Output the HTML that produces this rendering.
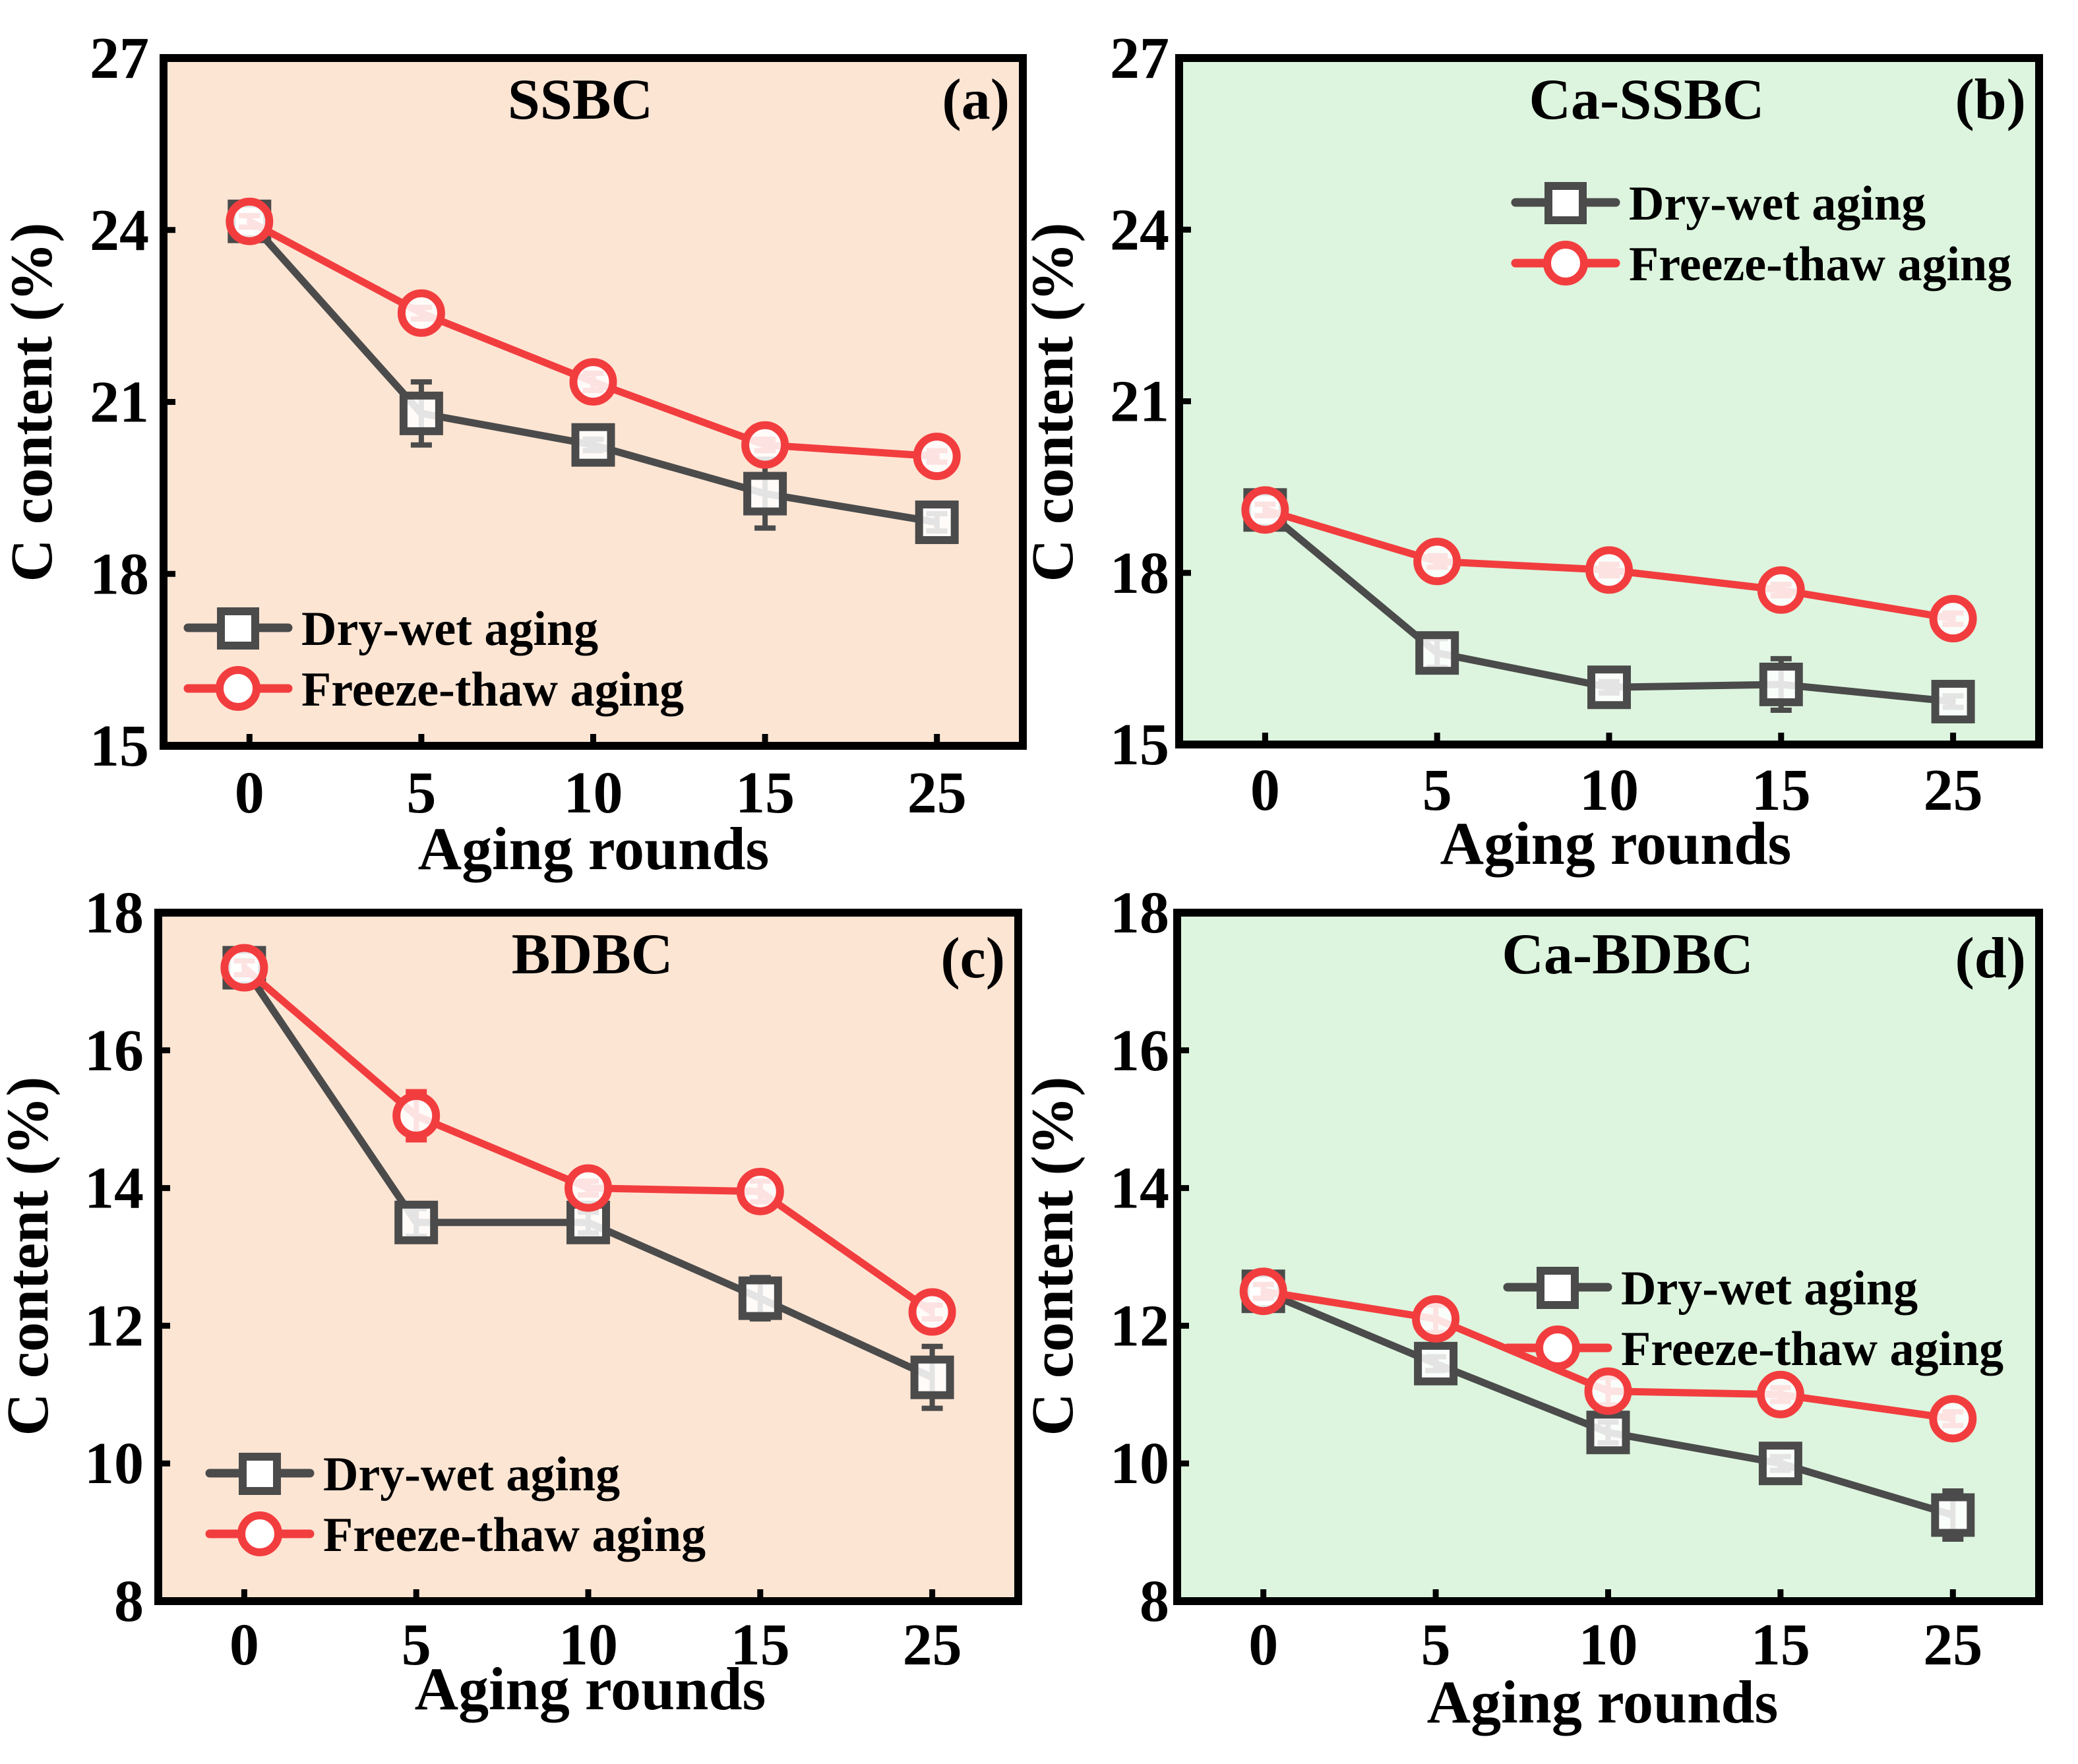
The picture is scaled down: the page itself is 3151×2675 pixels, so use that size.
<!DOCTYPE html>
<html><head><meta charset="utf-8">
<style>
html,body{margin:0;padding:0;background:#fff;}
svg{display:block;}
text{font-family:"Liberation Serif","Times New Roman",Times,serif;font-weight:bold;fill:#000;}
</style></head>
<body>
<svg id="fig" width="3151" height="2675" viewBox="0 0 3151 2675" xmlns="http://www.w3.org/2000/svg"></svg>
<script>
const categories = ["0","5","10","15","25"];
const dryA = [24.15, 20.8, 20.25, 19.4, 18.9];
const dryAErr = [0.1, 0.55, 0.1, 0.6, 0.15];
const frzA = [24.15, 22.55, 21.35, 20.25, 20.05];
const frzAErr = [0.1, 0.1, 0.15, 0.1, 0.1];
const dryB = [19.1, 16.6, 16.0, 16.05, 15.75];
const dryBErr = [0.1, 0.25, 0.1, 0.45, 0.1];
const frzB = [19.1, 18.2, 18.05, 17.7, 17.2];
const frzBErr = [0.1, 0.1, 0.1, 0.1, 0.1];
const dryC = [17.2, 13.5, 13.5, 12.4, 11.25];
const dryCErr = [0.15, 0.2, 0.15, 0.3, 0.45];
const frzC = [17.2, 15.05, 14.0, 13.95, 12.2];
const frzCErr = [0.1, 0.35, 0.1, 0.15, 0.1];
const dryD = [12.5, 11.45, 10.45, 10.0, 9.25];
const dryDErr = [0.1, 0.1, 0.15, 0.1, 0.35];
const frzD = [12.5, 12.1, 11.05, 11.0, 10.65];
const frzDErr = [0.1, 0.2, 0.2, 0.1, 0.1];
const ticksTop = [15, 18, 21, 24, 27];
const ticksBottom = [8, 10, 12, 14, 16, 18];

const NS = "http://www.w3.org/2000/svg";
const FONT = '"Liberation Serif", "Times New Roman", Times, serif';
const svg = document.getElementById("fig");
function mk(tag, attrs, parent){
  const e = document.createElementNS(NS, tag);
  for (const k in attrs) e.setAttribute(k, attrs[k]);
  if (tag === "text") { e.setAttribute("font-family", FONT); e.setAttribute("font-weight", "bold"); }
  (parent||svg).appendChild(e);
  return e;
}
const GRAY = "#4b4b4b", RED = "#f23d3f";

const panels = [
  {id:"a", title:"SSBC", L:248, R:1551, T:88, B:1131, ymin:15, ymax:27, ticks:ticksTop, bg:"#fde5d3",
   dry:dryA, dryE:dryAErr, frz:frzA, frzE:frzAErr, titleX:880, tickLblX:226, ylabX:78, ylabY:610,
   xtBase:1232, xlBase:1318, xlX:900, legX:285, legY:952},
  {id:"b", title:"Ca-SSBC", L:1788, R:3092, T:88, B:1129, ymin:15, ymax:27, ticks:ticksTop, bg:"#ddf5de",
   dry:dryB, dryE:dryBErr, frz:frzB, frzE:frzBErr, titleX:2497, tickLblX:1773, ylabX:1626, ylabY:610,
   xtBase:1228, xlBase:1310, xlX:2450, legX:2298, legY:307},
  {id:"c", title:"BDBC", L:240, R:1544, T:1384, B:2428, ymin:8, ymax:18, ticks:ticksBottom, bg:"#fde5d3",
   dry:dryC, dryE:dryCErr, frz:frzC, frzE:frzCErr, titleX:898, tickLblX:218, ylabX:72, ylabY:1905,
   xtBase:2524, xlBase:2592, xlX:895, legX:318, legY:2234},
  {id:"d", title:"Ca-BDBC", L:1785, R:3092, T:1384, B:2428, ymin:8, ymax:18, ticks:ticksBottom, bg:"#ddf5de",
   dry:dryD, dryE:dryDErr, frz:frzD, frzE:frzDErr, titleX:2468, tickLblX:1773, ylabX:1626, ylabY:1905,
   xtBase:2524, xlBase:2612, xlX:2430, legX:2286, legY:1952}
];

panels.forEach(p => {
  const g = mk("g", {});
  
  
  const xs = i => p.L + (i + 0.5) * (p.R - p.L) / categories.length;
  const ys = v => p.B - (v - p.ymin) / (p.ymax - p.ymin) * (p.B - p.T);

  const bg = mk("rect", {x:p.L, y:p.T, width:p.R-p.L, height:p.B-p.T, fill:p.bg}, g);
  
  

  p.ticks.forEach(t => {
    const y = ys(t);
    const tk = mk("line", {x1:p.L, x2:p.L+18, y1:y, y2:y, stroke:"#000", "stroke-width":9}, g);
    
    
    const tl = mk("text", {x:p.tickLblX, y:y+30, "font-size":90, "text-anchor":"end"}, g);
    tl.textContent = t;
    
    
  });
  categories.forEach((c, i) => {
    const x = xs(i);
    const tk = mk("line", {x1:x, x2:x, y1:p.B, y2:p.B-18, stroke:"#000", "stroke-width":9}, g);
    
    
    const tl = mk("text", {x:x, y:p.xtBase, "font-size":90, "text-anchor":"middle"}, g);
    tl.textContent = c;
    
    
  });

  const series = [
    {vals:p.dry, errs:p.dryE, color:GRAY, shape:"square", name:"dry-wet"},
    {vals:p.frz, errs:p.frzE, color:RED, shape:"circle", name:"freeze-thaw"}
  ];
  series.forEach(s => {
    const pts = s.vals.map((v, i) => xs(i) + "," + ys(v)).join(" ");
    const ln = mk("polyline", {points:pts, fill:"none", stroke:s.color, "stroke-width":11, "stroke-linejoin":"round"}, g);
    
    
    s.vals.forEach((v, i) => {
      const x = xs(i), y = ys(v), e = s.errs[i];
      const y1 = ys(v + e), y2 = ys(v - e);
      const eb = mk("path", {d:`M${x},${y1}V${y2}M${x-16},${y1}H${x+16}M${x-16},${y2}H${x+16}`, stroke:s.color, "stroke-width":8, fill:"none"}, g);
      
      
      let m;
      if (s.shape === "square") {
        m = mk("rect", {x:x-27, y:y-27, width:54, height:54, fill:"#fff", "fill-opacity":0.85, stroke:s.color, "stroke-width":12}, g);
      } else {
        m = mk("circle", {cx:x, cy:y, r:30, fill:"#fff", "fill-opacity":0.85, stroke:s.color, "stroke-width":12}, g);
      }
      
      
    });
  });

  const fr = mk("rect", {x:p.L, y:p.T, width:p.R-p.L, height:p.B-p.T, fill:"none", stroke:"#000", "stroke-width":12}, g);
  
  

  const tt = mk("text", {x:p.titleX, y:p.T+92, "font-size":88, "text-anchor":"middle"}, g);
  tt.textContent = p.title;
  
  
  const pl = mk("text", {x:p.R-20, y:p.T+(p.id==="c"||p.id==="d"?98:92), "font-size":88, "text-anchor":"end"}, g);
  pl.textContent = "(" + p.id + ")";
  
  

  const yl = mk("text", {x:0, y:0, "font-size":90, "text-anchor":"middle", transform:`translate(${p.ylabX},${p.ylabY}) rotate(-90)`}, g);
  yl.textContent = "C content (%)";
  
  
  const xl = mk("text", {x:p.xlX, y:p.xlBase, "font-size":92, "text-anchor":"middle"}, g);
  xl.textContent = "Aging rounds";
  
  

  const lg = mk("g", {}, g);
  
  
  series.forEach((s, k) => {
    const y = p.legY + k * 92;
    const en = mk("g", {}, lg);
    
    
    mk("line", {x1:p.legX, x2:p.legX+152, y1:y, y2:y, stroke:s.color, "stroke-width":13, "stroke-linecap":"round"}, en);
    if (s.shape === "square") mk("rect", {x:p.legX+50, y:y-25, width:52, height:52, fill:"#fff", stroke:s.color, "stroke-width":12}, en);
    else mk("circle", {cx:p.legX+76, cy:y, r:28, fill:"#fff", stroke:s.color, "stroke-width":12}, en);
    const t = mk("text", {x:p.legX+172, y:y+26, "font-size":74}, en);
    t.textContent = k === 0 ? "Dry-wet aging" : "Freeze-thaw aging";
  });
});
</script>
</body></html>
